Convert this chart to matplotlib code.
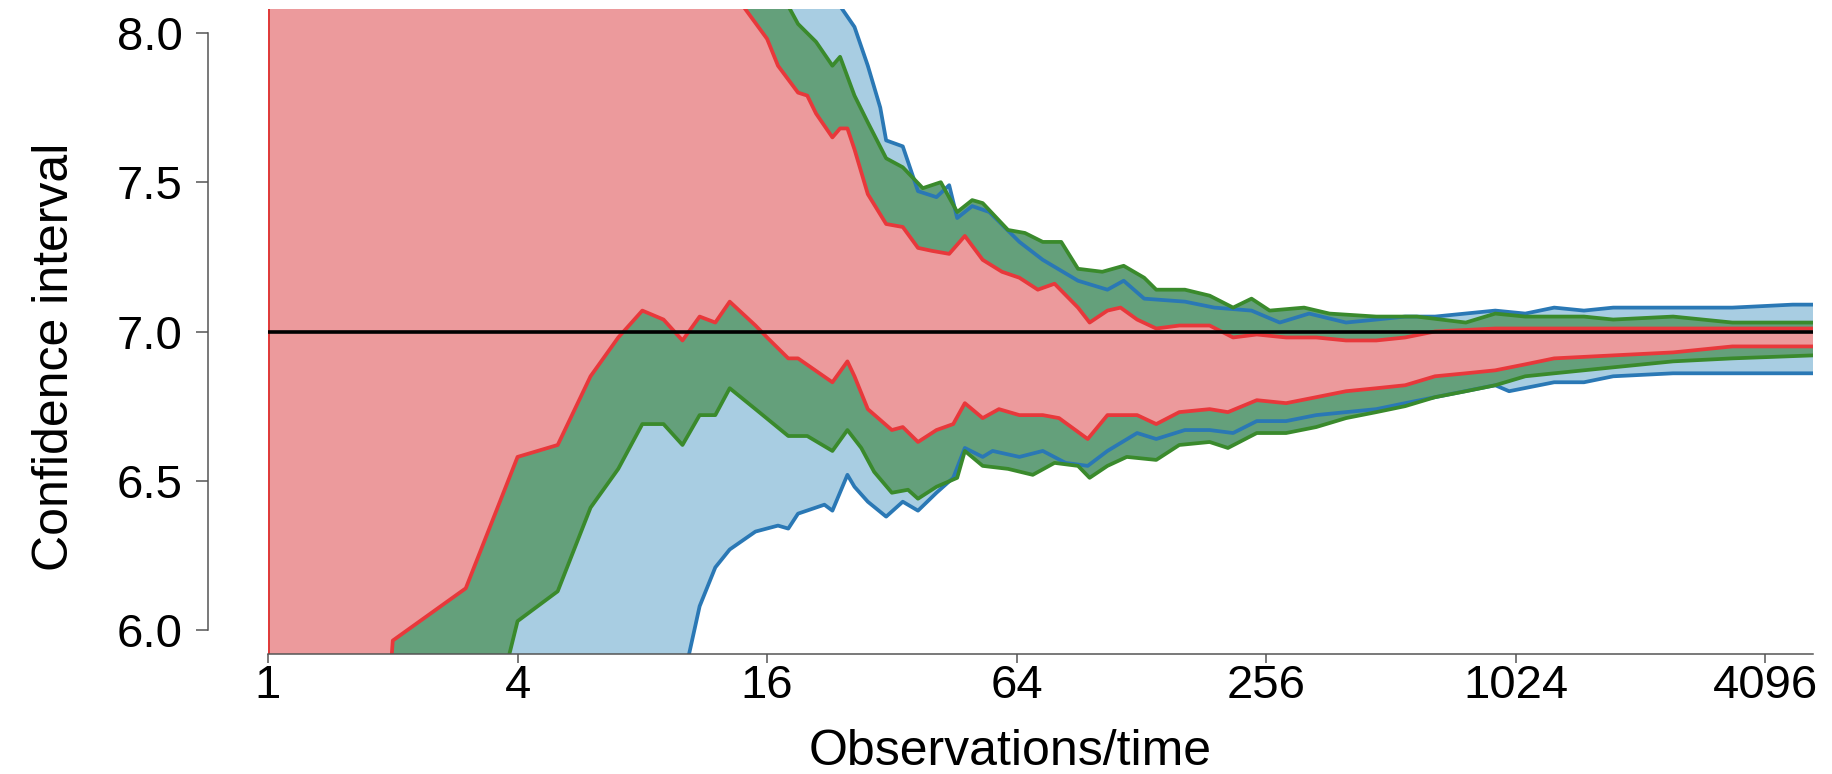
import numpy as np
import matplotlib
matplotlib.use("Agg")
import matplotlib.pyplot as plt

plt.rcParams['font.family'] = ['Liberation Sans', 'DejaVu Sans']

true_value = 7.0

# upper / lower confidence bounds (n = observations)
blue_hi_n = [1, 24, 26, 28, 30, 31, 34, 37, 41, 44, 46, 50, 55, 65, 74, 90, 106, 116, 130, 163,
             192, 236, 276, 325, 399, 472, 554, 654, 914, 1080, 1268, 1496, 1760, 2455, 3411, 4770, 5340]
blue_hi = [12.0, 8.09, 8.02, 7.89, 7.75, 7.64, 7.62, 7.47, 7.45, 7.49, 7.38, 7.42, 7.40, 7.30, 7.24, 7.17, 7.14, 7.17, 7.11, 7.10,
           7.08, 7.07, 7.03, 7.06, 7.03, 7.04, 7.05, 7.05, 7.07, 7.06, 7.08, 7.07, 7.08, 7.08, 7.08, 7.09, 7.09]
blue_lo_n = [1, 9, 10, 11, 12, 13, 15, 17, 18, 19, 22, 23, 25, 26, 28, 31, 34, 37, 41, 45, 48, 53, 56,
             65, 74, 84, 95, 106, 125, 139, 163, 187, 213, 243, 286, 338, 399, 472, 554, 654, 914, 987,
             1268, 1496, 1760, 2455, 3411, 5340]
blue_lo = [0.0, 5.5, 5.82, 6.08, 6.21, 6.27, 6.33, 6.35, 6.34, 6.39, 6.42, 6.40, 6.52, 6.48, 6.43, 6.38, 6.43, 6.40, 6.46, 6.51, 6.61, 6.58, 6.60,
           6.58, 6.60, 6.56, 6.55, 6.60, 6.66, 6.64, 6.67, 6.67, 6.66, 6.70, 6.70, 6.72, 6.73, 6.74, 6.76, 6.78, 6.82, 6.80,
           6.83, 6.83, 6.85, 6.86, 6.86, 6.86]

green_hi_n = [1, 18, 19, 21, 23, 24, 26, 28, 31, 34, 38, 42, 46, 50, 53, 61, 67, 74, 82, 90, 103, 116, 130, 139,
              163, 187, 213, 236, 261, 316, 364, 472, 591, 776, 914, 1080, 1496, 1760, 2455, 3411, 5340]
green_hi = [12.0, 8.09, 8.03, 7.97, 7.89, 7.92, 7.79, 7.70, 7.58, 7.55, 7.48, 7.50, 7.40, 7.44, 7.43, 7.34, 7.33, 7.30, 7.30, 7.21, 7.20, 7.22, 7.18, 7.14,
            7.14, 7.12, 7.08, 7.11, 7.07, 7.08, 7.06, 7.05, 7.05, 7.03, 7.06, 7.05, 7.05, 7.04, 7.05, 7.03, 7.03]
green_lo_n = [1, 2, 3, 4, 5, 6, 7, 8, 9, 10, 11, 12, 13, 15, 18, 20, 23, 25, 27, 29, 32, 35, 37, 41, 46, 48, 53,
              61, 70, 79, 90, 96, 106, 118, 139, 158, 187, 207, 243, 286, 338, 399, 472, 554, 654, 776, 914,
              1080, 1268, 1760, 2455, 3411, 5340]
green_lo = [0.0, 4.5, 5.33, 6.03, 6.13, 6.41, 6.54, 6.69, 6.69, 6.62, 6.72, 6.72, 6.81, 6.74, 6.65, 6.65, 6.60, 6.67, 6.61, 6.53, 6.46, 6.47, 6.44, 6.48, 6.51, 6.60, 6.55,
            6.54, 6.52, 6.56, 6.55, 6.51, 6.55, 6.58, 6.57, 6.62, 6.63, 6.61, 6.66, 6.66, 6.68, 6.71, 6.73, 6.75, 6.78, 6.80, 6.82,
            6.85, 6.86, 6.88, 6.90, 6.91, 6.92]

red_hi_n = [1, 14, 16, 17, 19, 20, 21, 23, 24, 25, 26, 28, 31, 34, 37, 40, 44, 48, 53, 59, 65, 72, 79, 90, 96,
            106, 114, 125, 139, 158, 187, 213, 243, 286, 338, 399, 472, 554, 654, 914, 1268, 1760, 2455, 3411, 5340]
red_hi = [12.0, 8.09, 7.98, 7.89, 7.80, 7.79, 7.73, 7.65, 7.68, 7.68, 7.61, 7.46, 7.36, 7.35, 7.28, 7.27, 7.26, 7.32, 7.24, 7.20, 7.18, 7.14, 7.16, 7.08, 7.03,
          7.07, 7.08, 7.04, 7.01, 7.02, 7.02, 6.98, 6.99, 6.98, 6.98, 6.97, 6.97, 6.98, 7.00, 7.01, 7.01, 7.01, 7.01, 7.01, 7.01]
red_lo_n = [1, 2, 3, 4, 5, 6, 7, 8, 9, 10, 11, 12, 13, 15, 16, 18, 19, 23, 25, 26, 28, 32, 34, 37, 41, 45, 48, 53, 58,
            65, 74, 81, 95, 106, 125, 139, 158, 187, 207, 243, 286, 338, 399, 472, 554, 654, 776, 914, 1080, 1268,
            1760, 2455, 3411, 5340]
red_lo = [0.0, 5.965, 6.14, 6.58, 6.62, 6.85, 6.98, 7.07, 7.04, 6.97, 7.05, 7.03, 7.10, 7.02, 6.98, 6.91, 6.91, 6.83, 6.90, 6.85, 6.74, 6.67, 6.68, 6.63, 6.67, 6.69, 6.76, 6.71, 6.74,
          6.72, 6.72, 6.71, 6.64, 6.72, 6.72, 6.69, 6.73, 6.74, 6.73, 6.77, 6.76, 6.78, 6.80, 6.81, 6.82, 6.85, 6.86, 6.87, 6.89, 6.91,
          6.92, 6.93, 6.95, 6.95]

x_ticks = [1, 4, 16, 64, 256, 1024, 4096]
y_ticks = [6.0, 6.5, 7.0, 7.5, 8.0]

series = [
    (blue_hi_n, blue_hi, blue_lo_n, blue_lo, '#A8CDE2', '#2A78B5'),
    (green_hi_n, green_hi, green_lo_n, green_lo, '#64A07B', '#3A8A2C'),
    (red_hi_n, red_hi, red_lo_n, red_lo, '#EC9A9C', '#E8383B'),
]

fig = plt.figure(figsize=(18.32, 7.74), dpi=100)
ax = fig.add_axes([268 / 1832, 120 / 774, 1545 / 1832, 645 / 774])

# fills first, then the bound lines on top
for hi_n, hi, lo_n, lo, fill_c, line_c in series:
    px = np.concatenate([hi_n, lo_n[::-1]])
    py = np.concatenate([hi, lo[::-1]])
    ax.fill(px, py, color=fill_c, lw=0, zorder=1)

for hi_n, hi, lo_n, lo, fill_c, line_c in series:
    ax.plot(hi_n, hi, color=line_c, lw=2.7, zorder=2)
    ax.plot(lo_n, lo, color=line_c, lw=2.7, zorder=2)
    ax.plot([hi_n[0], lo_n[0]], [hi[0], lo[0]], color=line_c, lw=2.7, zorder=2)

ax.axhline(true_value, color='black', lw=2.6, zorder=3)

ax.set_xscale('log', base=2)
ax.set_xlim(1, 5340)
ax.set_ylim(5.92, 8.08)
ax.set_xticks(x_ticks)
ax.set_xticklabels([str(t) for t in x_ticks])
ax.xaxis.set_minor_locator(matplotlib.ticker.NullLocator())
ax.set_yticks(y_ticks)
ax.set_yticklabels(['%.1f' % t for t in y_ticks])

for s in ['top', 'right']:
    ax.spines[s].set_visible(False)
ax.spines['left'].set_position(('outward', 43))
ax.spines['left'].set_bounds(6.0, 8.0)
for s in ['left', 'bottom']:
    ax.spines[s].set_color('#555555')
    ax.spines[s].set_linewidth(1.1)

ax.tick_params(axis='y', length=8.6, width=1.1, color='#555555', pad=10, labelsize=34)
ax.tick_params(axis='x', length=6.5, width=1.1, color='#555555', pad=1, labelsize=34)

fig.text(1010 / 1832, 1 - 765 / 774, 'Observations/time', fontsize=36,
         ha='center', va='baseline')
fig.text(68 / 1832, 1 - 357 / 774, 'Confidence interval', fontsize=36,
         rotation=90, rotation_mode='anchor', ha='center', va='baseline')

fig.savefig('out.png', dpi=100)
